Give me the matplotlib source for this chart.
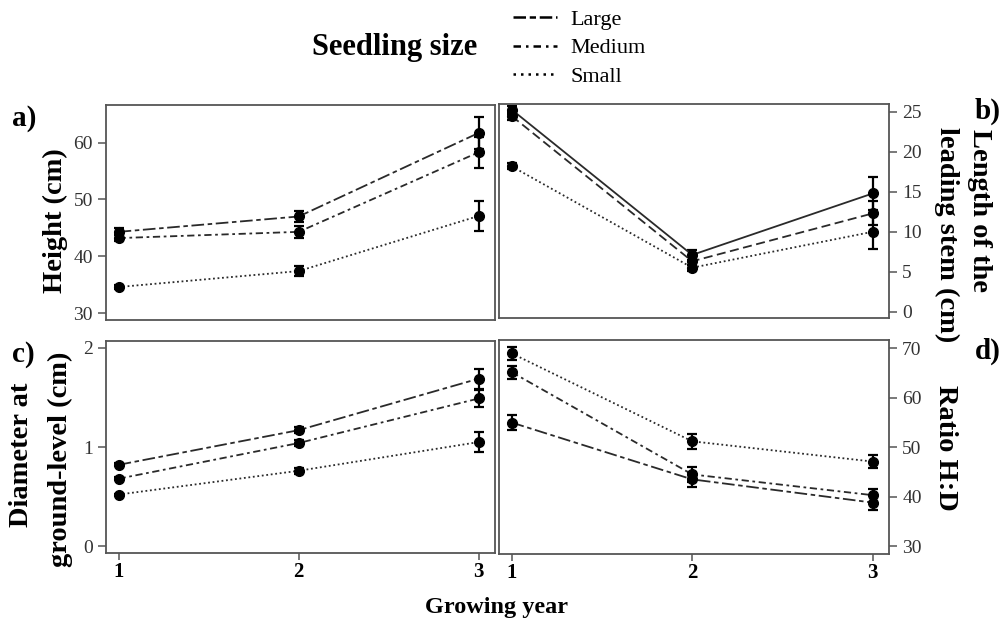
import matplotlib.pyplot as plt
from matplotlib.lines import Line2D

plt.rcParams['font.family'] = ['Liberation Serif', 'DejaVu Serif']

# Growing years
years = [1, 2, 3]
sizes = ['Large', 'Medium', 'Small']

# a) Height (cm)
height_large = [44.3, 47.0, 61.7]
height_large_err = [0.6, 1.0, 2.8]
height_medium = [43.2, 44.3, 58.3]
height_medium_err = [0.5, 1.0, 2.7]
height_small = [34.6, 37.4, 47.1]
height_small_err = [0.4, 0.9, 2.7]

# b) Length of the leading stem (cm)
stem_large = [25.3, 7.1, 14.8]
stem_large_err = [0.5, 0.6, 2.1]
stem_medium = [24.5, 6.3, 12.3]
stem_medium_err = [0.5, 0.5, 1.5]
stem_small = [18.2, 5.5, 10.0]
stem_small_err = [0.4, 0.4, 2.2]

# c) Diameter at ground-level (cm)
diam_large = [0.82, 1.17, 1.69]
diam_large_err = [0.015, 0.03, 0.10]
diam_medium = [0.68, 1.04, 1.49]
diam_medium_err = [0.015, 0.03, 0.09]
diam_small = [0.52, 0.76, 1.05]
diam_small_err = [0.01, 0.03, 0.10]

# d) Ratio H:D
ratio_large = [55.0, 43.5, 38.8]
ratio_large_err = [1.5, 1.5, 1.5]
ratio_medium = [65.2, 44.5, 40.3]
ratio_medium_err = [1.3, 1.5, 1.3]
ratio_small = [69.0, 51.2, 47.1]
ratio_small_err = [1.3, 1.5, 1.4]

# line styles
long_dashdot = (0, (7, 2, 2.5, 2))
short_dashdot = (0, (4, 2, 1.5, 2))
dotted = (0, (1, 1.5))
dashed = (0, (5, 2.5))

LINE_COLOR = '#2a2a2a'
SPINE_COLOR = '#555555'


def draw_panel(ax, series, styles, ylim, yticks, side):
    """Draw three series with error bars on one panel."""
    for (vals, errs), ls in zip(series, styles):
        ax.errorbar(years, vals, yerr=errs, color=LINE_COLOR, ls=ls, lw=1.3,
                    marker='o', ms=7, mfc='black', mec='black',
                    ecolor='black', elinewidth=1.6, capsize=3.5, capthick=1.6)
    ax.set_xlim(0.93, 3.09)
    ax.set_ylim(*ylim)
    ax.set_yticks(yticks)
    for sp in ax.spines.values():
        sp.set_color(SPINE_COLOR)
        sp.set_linewidth(1.3)
    ax.tick_params(axis='y', direction='out', length=6, width=1.1,
                   color=SPINE_COLOR, labelsize=14, labelcolor='#333333')
    if side == 'right':
        ax.yaxis.tick_right()
        ax.yaxis.set_label_position('right')


fig = plt.figure(figsize=(10.03, 6.25), dpi=100)
W, H = 1003, 625


def box(x0, y0, x1, y1):
    return [x0 / W, 1 - y1 / H, (x1 - x0) / W, (y1 - y0) / H]


ax_a = fig.add_axes(box(106, 105, 495, 320))
ax_b = fig.add_axes(box(499, 104, 889, 318))
ax_c = fig.add_axes(box(106, 341, 495, 553))
ax_d = fig.add_axes(box(499, 340, 889, 554))

draw_panel(ax_a,
           [(height_large, height_large_err),
            (height_medium, height_medium_err),
            (height_small, height_small_err)],
           [long_dashdot, short_dashdot, dotted],
           (28.8, 66.6), [30, 40, 50, 60], 'left')
draw_panel(ax_b,
           [(stem_large, stem_large_err),
            (stem_medium, stem_medium_err),
            (stem_small, stem_small_err)],
           ['-', dashed, dotted],
           (-0.8, 26.0), [0, 5, 10, 15, 20, 25], 'right')
draw_panel(ax_c,
           [(diam_large, diam_large_err),
            (diam_medium, diam_medium_err),
            (diam_small, diam_small_err)],
           [long_dashdot, short_dashdot, dotted],
           (-0.07, 2.07), [0, 1, 2], 'left')
draw_panel(ax_d,
           [(ratio_large, ratio_large_err),
            (ratio_medium, ratio_medium_err),
            (ratio_small, ratio_small_err)],
           [long_dashdot, short_dashdot, dotted],
           (28.4, 71.7), [30, 40, 50, 60, 70], 'right')

# x ticks only on the bottom row
for ax in (ax_a, ax_b):
    ax.set_xticks([])
for ax in (ax_c, ax_d):
    ax.set_xticks(years)
    ax.set_xticklabels([str(y) for y in years], fontweight='bold')
    ax.tick_params(axis='x', direction='out', length=5, width=1.1,
                   color=SPINE_COLOR, labelsize=15, labelcolor='black', pad=1.5)

# axis labels (each line placed on its own)
lab = dict(fontsize=20.5, fontweight='bold')
fig.text(55 / W, 1 - 221 / H, 'Height (cm)', rotation=90, ha='center', va='center', **lab)
fig.text(22 / W, 1 - 455 / H, 'Diameter at', rotation=90, ha='center', va='center', **lab)
fig.text(60 / W, 1 - 459 / H, 'ground-level (cm)', rotation=90, ha='center', va='center', **lab)
fig.text(980 / W, 1 - 129 / H, 'Length of the', rotation=270, ha='center', va='top', **lab)
fig.text(947 / W, 1 - 127 / H, 'leading stem (cm)', rotation=270, ha='center', va='top', **lab)
fig.text(946 / W, 1 - 448 / H, 'Ratio H:D', rotation=270, ha='center', va='center', **lab)
fig.text(497 / W, 1 - 607 / H, 'Growing year', ha='center', va='center',
         fontsize=17.5, fontweight='bold')

# panel letters
pl = dict(fontsize=21, fontweight='bold', ha='center', va='center')
fig.text(24 / W, 1 - 118 / H, 'a)', **pl)
fig.text(988 / W, 1 - 111 / H, 'b)', **pl)
fig.text(23 / W, 1 - 355 / H, 'c)', **pl)
fig.text(988 / W, 1 - 351 / H, 'd)', **pl)

# legend
fig.text(395 / W, 1 - 48 / H, 'Seedling size', ha='center', va='center',
         fontsize=22, fontweight='bold')
handles = [Line2D([], [], color='black', lw=1.8, ls=(0, (5, 1.5, 2.5, 1.5))),
           Line2D([], [], color='black', lw=1.8, ls=(0, (3, 2, 1, 2))),
           Line2D([], [], color='black', lw=1.8, ls=(0, (1, 2)))]
fig.legend(handles, sizes, loc='center left', bbox_to_anchor=(513 / W, 1 - 48 / H),
           frameon=False, fontsize=16, handlelength=2.0, handletextpad=0.6,
           labelspacing=0.35, borderpad=0, borderaxespad=0)

fig.savefig('out.png', dpi=100)
